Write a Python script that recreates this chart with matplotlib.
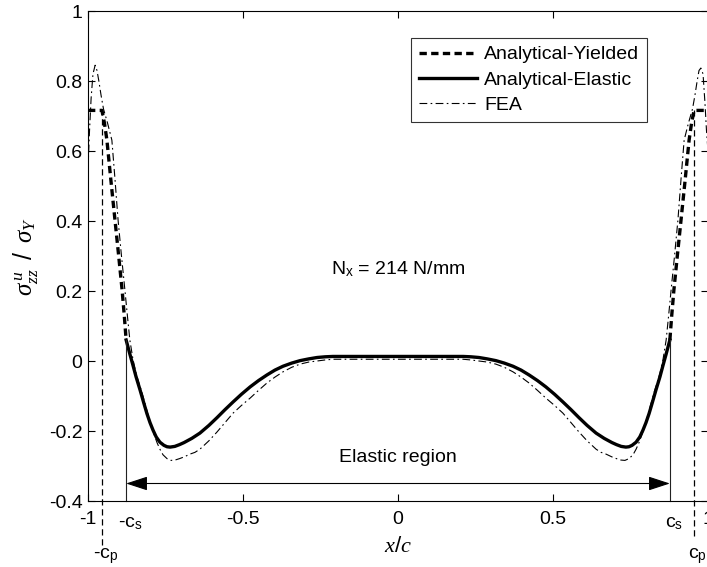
import numpy as np
import matplotlib
matplotlib.use("Agg")
import matplotlib.pyplot as plt

plt.rcParams['font.family'] = ['Liberation Sans', 'DejaVu Sans']
plt.rcParams['mathtext.fontset'] = 'custom'
plt.rcParams['mathtext.rm'] = 'Liberation Sans'
plt.rcParams['mathtext.it'] = 'Liberation Serif:italic'
plt.rcParams['mathtext.sf'] = 'Liberation Sans'
plt.rcParams['axes.unicode_minus'] = False

# region limits (x/c)
c_s = 0.877
c_p = 0.955
sig_plateau = 0.716   # yield plateau
sig_cs = 0.06         # stress at the elastic boundary

# Analytical-Elastic (solid), inside the elastic region
x_elast = [-0.877, -0.865, -0.855, -0.845, -0.832, -0.82, -0.81, -0.8, -0.79, -0.78,
           -0.768, -0.755, -0.745, -0.735, -0.72, -0.705, -0.69, -0.665, -0.639, -0.61,
           -0.584, -0.558, -0.532, -0.505, -0.477, -0.45, -0.423, -0.397, -0.371, -0.343,
           -0.316, -0.288, -0.261, -0.235, -0.21, -0.15, -0.1, -0.05, 0.0,
           0.05, 0.1, 0.15, 0.21, 0.235, 0.261, 0.288, 0.316, 0.343, 0.371, 0.397,
           0.423, 0.45, 0.477, 0.505, 0.532, 0.558, 0.584, 0.61, 0.639, 0.665,
           0.69, 0.705, 0.72, 0.735, 0.745, 0.755, 0.768, 0.78, 0.79, 0.8,
           0.81, 0.82, 0.832, 0.845, 0.855, 0.865, 0.877]
y_elast = [0.06, 0.02, -0.012, -0.045, -0.083, -0.12, -0.15, -0.176, -0.198, -0.217,
           -0.232, -0.241, -0.245, -0.246, -0.244, -0.239, -0.233, -0.221, -0.206, -0.184,
           -0.162, -0.139, -0.117, -0.095, -0.074, -0.056, -0.040, -0.026, -0.015, -0.006,
           0.001, 0.006, 0.010, 0.012, 0.013, 0.013, 0.013, 0.013, 0.013,
           0.013, 0.013, 0.013, 0.013, 0.012, 0.010, 0.006, 0.001, -0.006, -0.015, -0.026,
           -0.040, -0.056, -0.074, -0.095, -0.117, -0.139, -0.162, -0.184, -0.206, -0.221,
           -0.233, -0.239, -0.244, -0.246, -0.245, -0.241, -0.232, -0.217, -0.198, -0.176,
           -0.15, -0.12, -0.083, -0.045, -0.012, 0.02, 0.06]

# Analytical-Yielded (dashed): plateau + yielded zone outside the elastic region
x_yield_l = [-1.0, -0.955, -0.947, -0.939, -0.926, -0.913, -0.901, -0.890, -0.883, -0.877]
y_yield_l = [0.716, 0.716, 0.68, 0.631, 0.515, 0.403, 0.30, 0.203, 0.13, 0.06]
x_yield_r = [0.877, 0.883, 0.890, 0.901, 0.913, 0.926, 0.939, 0.947, 0.955, 1.0]
y_yield_r = [0.06, 0.13, 0.203, 0.30, 0.403, 0.515, 0.631, 0.68, 0.716, 0.716]

# FEA (dash-dot)
x_fea = [-1.0, -0.995, -0.99, -0.984, -0.977, -0.971, -0.965, -0.958, -0.95, -0.937,
         -0.923, -0.913, -0.903, -0.892, -0.881, -0.873, -0.865, -0.855, -0.845, -0.836,
         -0.826, -0.815, -0.805, -0.795, -0.786, -0.777, -0.768, -0.758, -0.745, -0.732,
         -0.719, -0.705, -0.69, -0.671, -0.655, -0.639, -0.61, -0.584, -0.558, -0.532,
         -0.505, -0.477, -0.45, -0.423, -0.397, -0.371, -0.343, -0.316, -0.288, -0.261,
         -0.235, -0.21, -0.15, -0.1, -0.05, 0.0,
         0.05, 0.1, 0.15, 0.21, 0.235, 0.261, 0.288, 0.316, 0.343, 0.371,
         0.397, 0.423, 0.45, 0.477, 0.505, 0.532, 0.558, 0.584, 0.61, 0.639,
         0.655, 0.671, 0.69, 0.705, 0.719, 0.732, 0.745, 0.758, 0.768, 0.777,
         0.786, 0.795, 0.805, 0.815, 0.826, 0.836, 0.845, 0.855, 0.865, 0.873,
         0.881, 0.892, 0.903, 0.913, 0.923, 0.937, 0.95, 0.958, 0.965, 0.971,
         0.977, 0.984, 0.99, 0.995, 1.0]
y_fea = [0.55, 0.66, 0.75, 0.82, 0.845, 0.83, 0.80, 0.76, 0.72, 0.68,
         0.631, 0.52, 0.403, 0.30, 0.203, 0.13, 0.06, 0.005, -0.035, -0.062,
         -0.09, -0.125, -0.158, -0.188, -0.212, -0.234, -0.252, -0.268, -0.279, -0.284,
         -0.283, -0.279, -0.274, -0.266, -0.261, -0.252, -0.228, -0.203, -0.176, -0.149,
         -0.127, -0.106, -0.084, -0.063, -0.046, -0.031, -0.018, -0.009, -0.003, 0.0,
         0.003, 0.005, 0.005, 0.005, 0.005, 0.005,
         0.005, 0.005, 0.005, 0.005, 0.003, 0.0, -0.003, -0.009, -0.018, -0.031,
         -0.046, -0.063, -0.084, -0.106, -0.127, -0.149, -0.176, -0.203, -0.228, -0.252,
         -0.261, -0.266, -0.274, -0.279, -0.283, -0.284, -0.279, -0.268, -0.252, -0.234,
         -0.212, -0.188, -0.158, -0.125, -0.09, -0.062, -0.035, 0.005, 0.06, 0.13,
         0.203, 0.30, 0.403, 0.52, 0.631, 0.68, 0.72, 0.76, 0.80, 0.83,
         0.837, 0.82, 0.74, 0.66, 0.6]

xticks = [-1, -0.5, 0, 0.5, 1]
xticklabels = ['-1', '-0.5', '0', '0.5', '1']
yticks = [-0.4, -0.2, 0, 0.2, 0.4, 0.6, 0.8, 1]
yticklabels = ['-0.4', '-0.2', '0', '0.2', '0.4', '0.6', '0.8', '1']

fig = plt.figure(figsize=(7.07, 5.67), dpi=100)
ax = fig.add_axes([88/707, 66/567, 620/707, 490/567])

dash = (0, (2.2, 1.3))
ax.plot(x_yield_l, y_yield_l, color='black', lw=2.4, ls=dash, label='Analytical-Yielded')
ax.plot(x_yield_r, y_yield_r, color='black', lw=2.4, ls=dash)
ax.plot(x_elast, y_elast, color='black', lw=2.4, ls='-', label='Analytical-Elastic')
ax.plot(x_fea, y_fea, color='black', lw=0.8, ls=(0, (7, 3, 1.5, 3)), label='FEA')

# region boundaries
for xs in (-c_s, c_s):
    ax.plot([xs, xs], [-0.4, sig_cs], color='#222222', lw=0.8, clip_on=False)
ax.plot([-c_p, -c_p], [-0.525, sig_plateau], color='black', lw=0.9, ls=(0, (5, 3)), clip_on=False)
ax.plot([c_p, c_p], [-0.5, sig_plateau], color='black', lw=0.9, ls=(0, (5, 3)), clip_on=False)

ax.annotate('', xy=(-c_s, -0.35), xytext=(c_s, -0.35),
            arrowprops=dict(arrowstyle='<|-|>,head_length=0.95,head_width=0.31', color='black',
                            lw=0.8, mutation_scale=14, shrinkA=0, shrinkB=0))
ax.text(0, -0.276, 'Elastic region', ha='center', va='center', fontsize=14)
ax.text(0, 0.263, r'N$_\mathregular{x}$ = 214 N/mm', ha='center', va='center', fontsize=14)

ax.text(-c_s + 0.012, -0.44, r'-c$_\mathregular{s}$', ha='center', va='top', fontsize=14)
ax.text(c_s + 0.012, -0.44, r'c$_\mathregular{s}$', ha='center', va='top', fontsize=14)
ax.text(-c_p + 0.012, -0.53, r'-c$_\mathregular{p}$', ha='center', va='top', fontsize=14)
ax.text(c_p + 0.012, -0.53, r'c$_\mathregular{p}$', ha='center', va='top', fontsize=14)

ax.set_xlim(-1, 1)
ax.set_ylim(-0.4, 1)
ax.set_xticks(xticks)
ax.set_xticklabels(xticklabels)
ax.set_yticks(yticks)
ax.set_yticklabels(yticklabels)
ax.tick_params(direction='in', top=True, right=True, labelsize=14, length=5, width=0.8)
ax.tick_params(axis='x', pad=7)
ax.tick_params(axis='y', pad=4)
for s in ax.spines.values():
    s.set_linewidth(0.8)

ax.set_xlabel(r'$x/c$', fontsize=16, labelpad=6)
ax.set_ylabel(r'$\sigma^{\,u}_{zz}\;\;/\;\;\sigma_{Y}$', fontsize=18, labelpad=6)

leg = ax.legend(loc='upper right', bbox_to_anchor=(0.9016, 0.945), fontsize=14,
                handlelength=3.0, frameon=True, fancybox=False, edgecolor='black',
                borderpad=0.4, labelspacing=0.4, handletextpad=0.35, borderaxespad=0)
leg.get_frame().set_linewidth(0.8)

plt.savefig('out.png', dpi=100)
